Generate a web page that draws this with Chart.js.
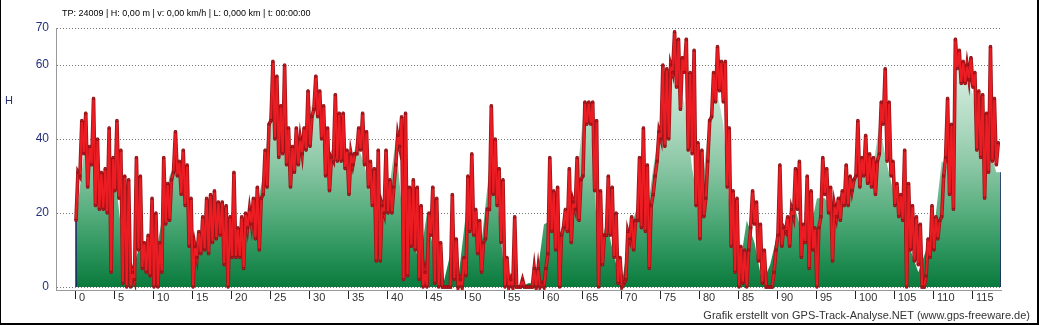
<!DOCTYPE html>
<html>
<head>
<meta charset="utf-8">
<title>Höhenprofil</title>
<script src="https://cdn.jsdelivr.net/npm/chart.js@4.4.1/dist/chart.umd.min.js"></script>
<style>
    html, body { margin: 0; padding: 0; background: #fff; }
    #wrap { width: 1039px; height: 325px; }
</style>
</head>
<body>
<div id="wrap"><canvas id="profile" width="1039" height="325"></canvas></div>
<script>
(function() {
    'use strict';

    // Spread of the track values per 0.5 km bin (upper and lower end)
    const kmStep = 0.5;
    const valueHigh = [
        31, 45, 47, 38, 51, 40, 31, 32, 43, 35,
        45, 37, 30, 29, 4, 35, 30, 12, 14, 24,
        20, 12, 35, 28, 29, 42, 34, 37, 33, 24,
        11, 15, 19, 24, 25, 26, 23, 23, 22, 19,
        31, 16, 19, 20, 21, 24, 27, 24, 37, 44,
        61, 57, 49, 60, 43, 38, 43, 40, 43, 53,
        46, 57, 53, 49, 43, 35, 52, 47, 47, 37,
        36, 36, 43, 47, 42, 34, 32, 37, 22, 37,
        29, 27, 41, 46, 47, 27, 29, 27, 22, 4,
        20, 27, 24, 12, 0, 0, 25, 13, 2, 8,
        30, 36, 21, 18, 12, 21, 49, 40, 32, 29,
        8, 2, 19, 0, 2, 0, 0, 5, 5, 1,
        5, 35, 26, 27, 14, 21, 32, 23, 35, 29,
        50, 50, 50, 45, 26, 14, 30, 27, 20, 8,
        1, 15, 19, 18, 35, 43, 33, 22, 30, 42,
        60, 59, 60, 69, 67, 62, 67, 58, 64, 39,
        37, 24, 45, 58, 65, 61, 61, 43, 26, 24,
        11, 10, 10, 26, 23, 17, 10, 0, 0, 10,
        33, 16, 19, 21, 32, 34, 17, 30, 26, 16,
        16, 35, 32, 27, 22, 24, 26, 33, 30, 29,
        45, 35, 41, 36, 35, 34, 50, 59, 50, 34,
        28, 25, 37, 28, 22, 19, 17, 0, 13, 22,
        19, 18, 30, 51, 44, 67, 64, 61, 60, 62,
        58, 53, 52, 47, 65, 51, 39
    ];
    const valueLow = [
        18, 30, 36, 27, 33, 22, 21, 21, 20, 4,
        26, 24, 1, 0, 0, 2, 10, 5, 4, 3,
        0, 0, 4, 17, 18, 31, 30, 25, 22, 11,
        0, 8, 9, 10, 9, 12, 13, 14, 6, 0,
        8, 8, 8, 5, 16, 17, 13, 10, 25, 27,
        45, 40, 35, 36, 33, 27, 31, 33, 36, 37,
        38, 48, 46, 40, 30, 26, 34, 34, 34, 32,
        25, 33, 36, 37, 33, 27, 22, 7, 7, 20,
        20, 20, 33, 38, 2, 3, 11, 10, 2, 0,
        0, 14, 1, 0, 0, 0, 0, 2, 0, 0,
        3, 15, 14, 9, 4, 13, 21, 25, 22, 12,
        0, 0, 0, 0, 0, 0, 0, 0, 0, 0,
        0, 9, 15, 10, 0, 16, 15, 12, 21, 18,
        30, 44, 44, 26, 0, 6, 14, 14, 8, 1,
        0, 2, 13, 10, 18, 16, 15, 5, 25, 34,
        40, 38, 40, 58, 54, 48, 58, 37, 36, 22,
        13, 19, 34, 46, 50, 53, 50, 27, 11, 4,
        0, 1, 0, 16, 17, 7, 1, 0, 0, 4,
        14, 11, 15, 11, 19, 21, 8, 12, 5, 10,
        0, 19, 25, 20, 7, 19, 18, 22, 22, 26,
        30, 27, 30, 28, 27, 25, 36, 44, 34, 30,
        22, 19, 18, 0, 10, 7, 6, 0, 3, 8,
        10, 13, 19, 35, 25, 21, 59, 55, 55, 56,
        54, 37, 35, 24, 31, 34, 33
    ];

    // Filled profile, one value per km
    const profileLevel = [
        18, 36, 35, 24, 26, 30, 12, 3, 10, 8,
        6, 18, 30, 35, 26, 8, 13, 15, 17, 12,
        14, 13, 19, 20, 30, 50, 44, 37, 36, 39,
        49, 48, 34, 38, 36, 32, 39, 33, 23, 15,
        24, 40, 16, 16, 6, 20, 8, 0, 9, 2,
        20, 17, 12, 32, 24, 2, 2, 0, 1, 1,
        17, 18, 12, 18, 24, 46, 45, 8, 18, 8,
        1, 15, 22, 16, 32, 45, 57, 55, 50, 32,
        20, 42, 55, 44, 15, 4, 18, 12, 1, 6,
        15, 15, 23, 15, 14, 24, 24, 21, 25, 25,
        31, 31, 29, 44, 33, 24, 20, 10, 4, 10,
        15, 34, 32, 59, 57, 52, 36, 38, 31
    ];
    const trackEnd = 118.6;

    const xTicks = [0, 5, 10, 15, 20, 25, 30, 35, 40, 45, 50, 55, 60, 65, 70, 75, 80, 85, 90, 95, 100, 105, 110, 115];
    const yTicks = [0, 20, 40, 60, 70];

    const headerText = 'TP: 24009 | H: 0,00 m | v: 0,00 km/h | L: 0,000 km | t: 00:00:00';
    const creditText = 'Grafik erstellt von GPS-Track-Analyse.NET (www.gps-freeware.de)';
    const axisTitle = 'H';

    const FONT = '"Liberation Sans", Arial, sans-serif';
    const NAVY = '#26307c';

    // Each bin becomes a down/up stroke: low value at the bin start, high value in the middle
    const trackPoints = [];
    valueHigh.forEach((hi, i) => {
        trackPoints.push({ x: i * kmStep, y: valueLow[i] });
        trackPoints.push({ x: i * kmStep + kmStep / 2, y: hi });
    });

    const fillData = [{ x: 0, y: 0 }]
        .concat(profileLevel.map((v, i) => ({ x: i, y: v })))
        .concat([
            { x: trackEnd, y: profileLevel[profileLevel.length - 1] },
            { x: trackEnd, y: 0 }
        ]);

    function fillGradient(context) {
        const chart = context.chart;
        if (!chart.chartArea) return null;
        const y = chart.scales.y;
        const g = chart.ctx.createLinearGradient(0, y.getPixelForValue(70), 0, y.getPixelForValue(0));
        g.addColorStop(0, '#e6f4ec');
        g.addColorStop(0.17, '#d6ede0');
        g.addColorStop(0.35, '#b4dcc5');
        g.addColorStop(0.53, '#8bc7a5');
        g.addColorStop(0.7, '#5aaf80');
        g.addColorStop(0.85, '#2e965e');
        g.addColorStop(1, '#0a7a3c');
        return g;
    }

    // Header, axis title, credit line and the image frame
    const decorations = {
        id: 'decorations',
        afterDraw(chart) {
            const ctx = chart.ctx;
            ctx.save();
            ctx.textBaseline = 'alphabetic';

            ctx.fillStyle = '#000';
            ctx.font = '9px ' + FONT;
            ctx.textAlign = 'left';
            ctx.fillText(headerText, 62, 16);

            ctx.fillStyle = NAVY;
            ctx.font = '11px ' + FONT;
            ctx.fillText(axisTitle, 5, 104);

            ctx.fillStyle = '#333';
            ctx.textAlign = 'right';
            ctx.fillText(creditText, 1030, 319);

            ctx.fillStyle = '#000';
            ctx.fillRect(0, 0, 1, chart.height);
            ctx.fillRect(chart.width - 2, 0, 2, chart.height);
            ctx.fillRect(0, chart.height - 2, chart.width, 2);
            ctx.restore();
        }
    };

    new Chart(document.getElementById('profile'), {
        type: 'line',
        data: {
            datasets: [{
                label: 'Werte',
                data: trackPoints,
                borderColor: '#ec1c23',
                borderWidth: 2,
                borderJoinStyle: 'miter',
                pointStyle: 'rect',
                pointRadius: 1.5,
                pointBackgroundColor: '#e8161d',
                pointBorderColor: '#8a1418',
                pointBorderWidth: 1,
                fill: false,
                tension: 0,
                order: 0
            }, {
                label: 'Kontur',
                data: trackPoints,
                borderColor: '#9a1519',
                borderWidth: 3.6,
                borderJoinStyle: 'miter',
                pointRadius: 0,
                fill: false,
                tension: 0,
                order: 1
            }, {
                label: 'Profil',
                data: fillData,
                fill: 'origin',
                backgroundColor: fillGradient,
                borderWidth: 1.5,
                pointRadius: 0,
                tension: 0,
                segment: {
                    borderColor: ctx => ctx.p0.parsed.x === ctx.p1.parsed.x ? '#1b1f6b' : 'rgba(0,0,0,0)'
                },
                order: 2
            }]
        },
        options: {
            responsive: false,
            devicePixelRatio: 1,
            animation: false,
            layout: {
                padding: { top: 28, right: 38, bottom: 0, left: 0 }
            },
            plugins: {
                legend: { display: false },
                tooltip: { enabled: false }
            },
            scales: {
                x: {
                    type: 'linear',
                    min: -2.564,
                    max: trackEnd,
                    afterBuildTicks: scale => {
                        scale.ticks = xTicks.map(v => ({ value: v }));
                    },
                    afterFit: scale => {
                        scale.height = 35;
                    },
                    grid: {
                        drawOnChartArea: false,
                        drawTicks: true,
                        tickLength: 9,
                        tickColor: '#222'
                    },
                    border: { color: '#999' },
                    ticks: {
                        align: 'start',
                        padding: -8,
                        maxRotation: 0,
                        autoSkip: false,
                        color: '#333',
                        font: { family: FONT, size: 11 },
                        callback: v => ' ' + v
                    }
                },
                y: {
                    min: -0.8,
                    max: 70,
                    afterBuildTicks: scale => {
                        scale.ticks = yTicks.map(v => ({ value: v }));
                    },
                    afterFit: scale => {
                        scale.width = 56;
                    },
                    grid: {
                        color: '#777',
                        drawTicks: false
                    },
                    border: { color: '#999', dash: [1, 2] },
                    ticks: {
                        padding: 7,
                        color: NAVY,
                        font: { family: FONT, size: 12 }
                    }
                }
            }
        },
        plugins: [decorations]
    });
})();
</script>
</body>
</html>
